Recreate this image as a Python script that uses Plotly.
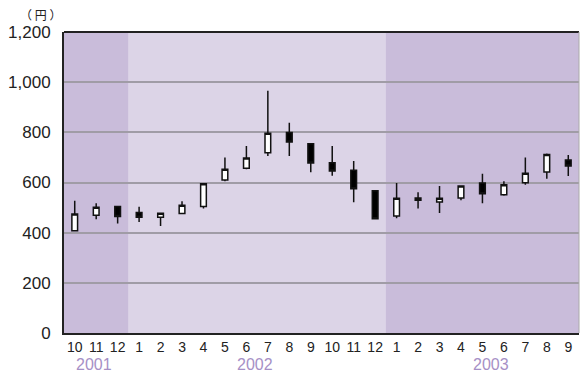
import plotly.graph_objects as go

# Monthly share price (yen), Oct 2001 - Sep 2003
months = ["10", "11", "12", "1", "2", "3", "4", "5", "6", "7", "8", "9",
          "10", "11", "12", "1", "2", "3", "4", "5", "6", "7", "8", "9"]
open_ = [408, 469, 504, 480, 461, 476, 504, 610, 657, 719, 799, 754,
         679, 649, 567, 466, 529, 522, 538, 598, 551, 599, 642, 690]
high = [527, 517, 505, 503, 479, 525, 598, 700, 746, 966, 838, 757,
        746, 686, 568, 598, 561, 586, 588, 635, 605, 700, 716, 710]
low = [405, 453, 437, 443, 427, 474, 496, 605, 653, 706, 706, 641,
       627, 521, 454, 457, 496, 478, 529, 517, 547, 591, 615, 626]
close = [474, 501, 464, 461, 477, 509, 595, 653, 698, 796, 761, 678,
         646, 575, 455, 537, 538, 537, 586, 555, 591, 637, 712, 666]

years = ["2001", "2002", "2003"]
year_spans = [(0, 2), (3, 14), (15, 23)]
year_label_x = [0.9, 8.4, 19.4]
band_colors = ["#c9bcda", "#dcd4e7", "#c9bcda"]

x = list(range(len(months)))

fig = go.Figure()
fig.add_trace(go.Candlestick(
    x=x, open=open_, high=high, low=low, close=close,
    increasing=dict(line=dict(color="#111111", width=1.5), fillcolor="#ffffff"),
    decreasing=dict(line=dict(color="#111111", width=1.5), fillcolor="#000000"),
    whiskerwidth=0,
    showlegend=False,
    hoverinfo="x+y",
))

shapes = []
for (a, b), c in zip(year_spans, band_colors):
    shapes.append(dict(type="rect", xref="x", yref="paper", x0=a - 0.5, x1=b + 0.5,
                       y0=0, y1=1, fillcolor=c, line=dict(width=0), layer="below"))
# frame: dark top, faint right
shapes.append(dict(type="line", xref="paper", yref="paper", x0=0, x1=1, y0=1, y1=1,
                   line=dict(color="#222222", width=2)))
shapes.append(dict(type="line", xref="paper", yref="paper", x0=1, x1=1, y0=0, y1=1,
                   line=dict(color="#aaaaaa", width=1)))

annotations = []
for yr, xv in zip(years, year_label_x):
    annotations.append(dict(text=yr, x=xv, xref="x", y=-0.105, yref="paper",
                            showarrow=False, yanchor="middle",
                            font=dict(size=16, color="#a690c6",
                                      family="Liberation Sans, Arial, sans-serif")))
annotations.append(dict(text="（ 円 ）", x=-0.045, xref="paper", y=1.058, yref="paper",
                        showarrow=False, xanchor="center", yanchor="middle",
                        font=dict(size=12, color="#222222",
                                  family="Noto Sans CJK JP, sans-serif")))

fig.update_layout(
    width=580, height=375,
    margin=dict(l=64, r=1, t=32, b=42),
    paper_bgcolor="#ffffff",
    plot_bgcolor="#dcd4e7",
    boxgap=0.62,
    font=dict(family="Liberation Sans, Arial, sans-serif", color="#222222"),
    shapes=shapes,
    annotations=annotations,
    xaxis=dict(
        range=[-0.5, 23.5], tickmode="array", tickvals=x, ticktext=months,
        showgrid=False, zeroline=False, rangeslider=dict(visible=False),
        showline=True, linecolor="#222222", linewidth=2,
        ticks="", tickfont=dict(size=14, color="#222222"),
        fixedrange=True,
    ),
    yaxis=dict(
        range=[0, 1200], tickmode="array", tickvals=[0, 200, 400, 600, 800, 1000, 1200],
        ticktext=["0", "200", "400", "600", "800", "1,000", "1,200"],
        showgrid=True, gridcolor="#a09ca6", gridwidth=1.5,
        showline=True, linecolor="#222222", linewidth=2,
        ticks="", ticklabelstandoff=8, tickfont=dict(size=17, color="#222222"),
        zeroline=False, fixedrange=True,
    ),
)

fig.write_html("out.html")
